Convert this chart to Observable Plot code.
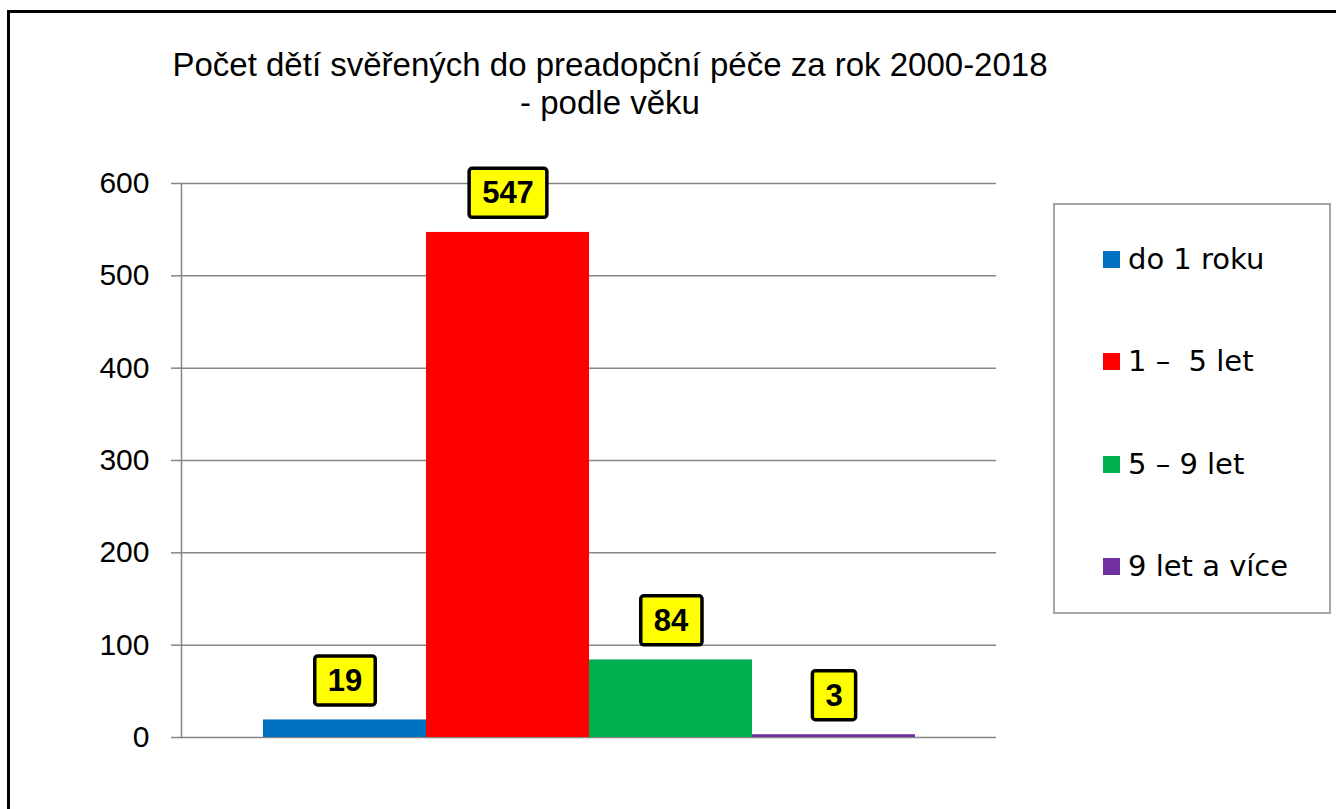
<!DOCTYPE html>
<html><head><meta charset="utf-8">
<script src="https://cdn.jsdelivr.net/npm/d3@7"></script>
<script src="https://cdn.jsdelivr.net/npm/@observablehq/plot@0.6"></script>
<style>
html,body{margin:0;padding:0;background:#fff;overflow:hidden;width:1336px;height:809px;}
#border{position:absolute;left:7px;top:10px;width:1400px;height:900px;border-left:3px solid #000;border-top:3px solid #000;}
#title{position:absolute;left:0;top:46px;width:1220px;text-align:center;font-family:"Liberation Sans",Arial,sans-serif;font-size:33px;line-height:38px;color:#000;}
#chart{position:absolute;left:0;top:0;}
#legend{position:absolute;left:1053px;top:203px;width:278px;height:411px;border:2px solid #a6a6a6;box-sizing:border-box;background:#fff;}
.item{position:absolute;left:48px;display:flex;align-items:center;height:40px;transform:translateY(-50%);font-family:"DejaVu Sans",Verdana,sans-serif;font-size:29px;color:#000;white-space:pre;}
.sw{width:17px;height:17px;margin-right:8px;}
</style>
</head><body>
<div id="border"></div>
<div id="chart"></div>
<div id="title"></div>
<div id="legend"></div>
<script>
const titleLines = ["Počet dětí svěřených do preadopční péče za rok 2000-2018", "- podle věku"];
const categories = ["do 1 roku", "1 –  5 let", "5 – 9 let", "9 let a více"];
const values = [19, 547, 84, 3];
const colors = ["#0070C0", "#FF0000", "#00B050", "#7030A0"];
const yTicks = [0, 100, 200, 300, 400, 500, 600];

const data = categories.map((c, i) => ({category: c, value: values[i]}));

document.getElementById("title").innerHTML = titleLines.join("<br>");

const chart = Plot.plot({
  width: 1336, height: 809,
  marginLeft: 181, marginRight: 340, marginTop: 183, marginBottom: 72,
  style: {fontFamily: '"Liberation Sans", Arial, sans-serif', fontSize: "30px", color: "#000", background: "transparent"},
  x: {type: "band", domain: categories, paddingInner: 0, paddingOuter: 0.5, axis: null},
  y: {domain: [0, 600], ticks: yTicks},
  color: {domain: categories, range: colors},
  marks: [
    Plot.ruleY(yTicks, {stroke: "#868686", strokeWidth: 1.5}),
    Plot.axisY({ticks: yTicks, tickSize: 10, tickPadding: 22, stroke: "#868686", strokeWidth: 1.5, fontSize: 30, label: null}),
    Plot.barY(data, {x: "category", y: "value", fill: "category"}),
    Plot.frame({anchor: "left", stroke: "#868686", strokeWidth: 1.5}),
    Plot.text(data, {x: "category", y: "value", text: d => String(d.value), dy: -39, fontSize: 31, fontWeight: "bold", fill: "#000"})
  ]
});
document.getElementById("chart").append(chart);

// yellow label boxes behind data labels
const tg = chart.querySelector('g[aria-label="text"]');
if (tg) {
  tg.querySelectorAll("text").forEach(t => {
    const b = t.getBBox();
    const r = document.createElementNS("http://www.w3.org/2000/svg", "rect");
    r.setAttribute("x", b.x - 13);
    r.setAttribute("y", b.y - 7);
    r.setAttribute("width", b.width + 26);
    r.setAttribute("height", b.height + 14);
    r.setAttribute("rx", 3);
    r.setAttribute("fill", "#FFFF00");
    r.setAttribute("stroke", "#000");
    r.setAttribute("stroke-width", 3.5);
    if (t.getAttribute("transform")) r.setAttribute("transform", t.getAttribute("transform"));
    t.parentNode.insertBefore(r, t);
  });
}

// legend
const legend = document.getElementById("legend");
const rowY = [54, 156, 259, 361];
categories.forEach((c, i) => {
  const it = document.createElement("div");
  it.className = "item";
  it.style.top = rowY[i] + "px";
  const sw = document.createElement("div");
  sw.className = "sw";
  sw.style.background = colors[i];
  const tx = document.createElement("span");
  tx.textContent = c;
  it.append(sw, tx);
  legend.append(it);
});
</script>
</body></html>
